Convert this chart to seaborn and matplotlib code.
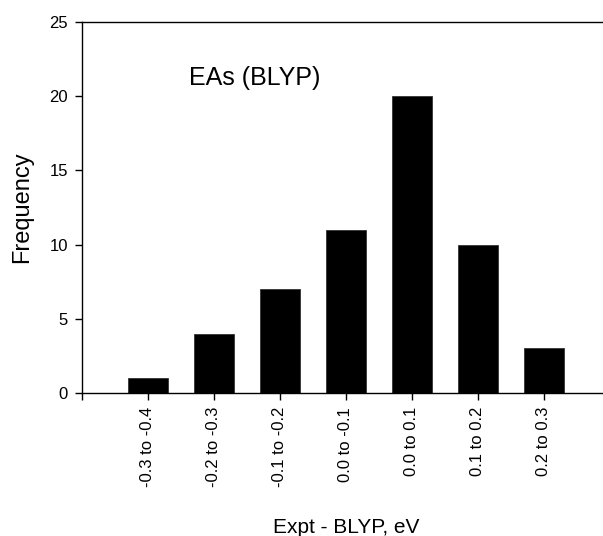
import matplotlib
matplotlib.use("Agg")
import matplotlib.pyplot as plt
import seaborn as sns
import pandas as pd

categories = ["-0.3 to -0.4", "-0.2 to -0.3", "-0.1 to -0.2", "0.0 to -0.1",
              "0.0 to 0.1", "0.1 to 0.2", "0.2 to 0.3"]
frequency = [1, 4, 7, 11, 20, 10, 3]
y_ticks = [0, 5, 10, 15, 20, 25]

sns.set_style("ticks")
plt.rcParams['font.family'] = ['Liberation Sans', 'DejaVu Sans']
plt.rcParams['text.color'] = 'black'
plt.rcParams['axes.labelcolor'] = 'black'
plt.rcParams['xtick.color'] = 'black'
plt.rcParams['ytick.color'] = 'black'

df = pd.DataFrame({"range": categories, "freq": frequency})

fig = plt.figure(figsize=(6.03, 5.36), dpi=100)
ax = fig.add_axes([82/603, (536-393)/536, (610-82)/603, (393-22)/536])

sns.barplot(data=df, x="range", y="freq", order=categories, color="black",
            width=0.606, edgecolor="#333333", linewidth=0.6, ax=ax, saturation=1)

ax.set_xlim(-1, 7)
ax.set_ylim(0, 25)
ax.set_yticks(y_ticks)
ax.set_yticklabels([str(v) for v in y_ticks], fontsize=12, color="black")
ax.set_xticks(list(range(-1, 7)))
ax.set_xticklabels([""] + categories, rotation=90, fontsize=12, color="black")

for s in ["left", "bottom", "top"]:
    ax.spines[s].set_visible(True)
    ax.spines[s].set_color("black")
    ax.spines[s].set_linewidth(1.0)
ax.spines["right"].set_visible(False)
ax.tick_params(axis="both", direction="out", length=5, width=1, color="black", pad=5)

ax.set_xlabel("Expt - BLYP, eV", fontsize=15, labelpad=22, color="black")
ax.set_ylabel("Frequency", fontsize=17, labelpad=12, color="black")
ax.text(1.62, 21.2, "EAs (BLYP)", fontsize=18, ha="center", va="center", color="black")

fig.savefig("out.png", dpi=100)
